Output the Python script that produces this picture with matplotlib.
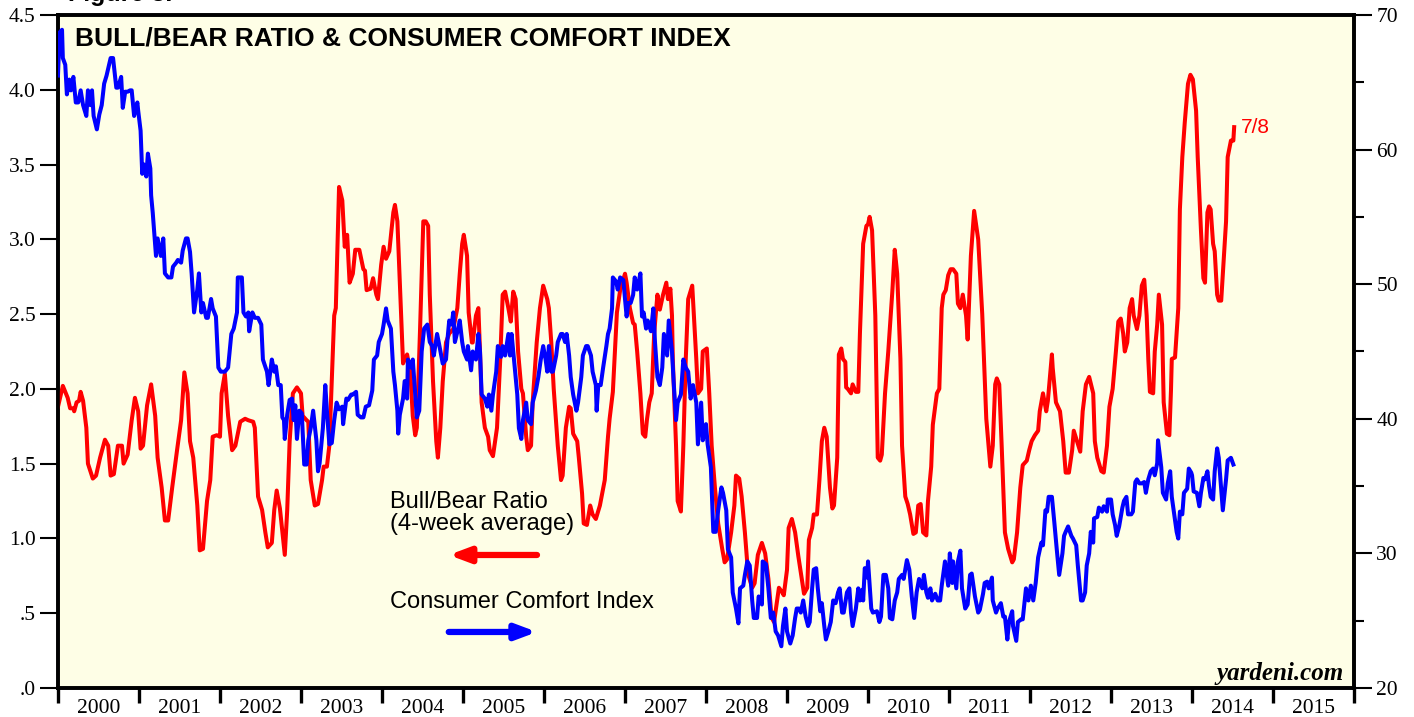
import matplotlib
matplotlib.use('Agg')
import matplotlib.pyplot as plt
from matplotlib.ticker import MultipleLocator, FixedLocator, FuncFormatter, NullFormatter

# Bull/Bear ratio (4-week average), left scale
bb_year = [2000.00, 2000.06, 2000.12, 2000.15, 2000.19, 2000.20, 2000.23, 2000.26, 2000.28, 2000.31,
           2000.35, 2000.37, 2000.43, 2000.47, 2000.52, 2000.58, 2000.62, 2000.65, 2000.69, 2000.74,
           2000.79, 2000.81, 2000.86, 2000.91, 2000.95, 2000.99, 2001.02, 2001.05, 2001.10, 2001.15,
           2001.20, 2001.23, 2001.28, 2001.32, 2001.36, 2001.41, 2001.47, 2001.52, 2001.56, 2001.60,
           2001.63, 2001.67, 2001.72, 2001.75, 2001.79, 2001.84, 2001.88, 2001.91, 2001.96, 2002.00,
           2002.02, 2002.06, 2002.10, 2002.15, 2002.19, 2002.25, 2002.31, 2002.35, 2002.41, 2002.43,
           2002.47, 2002.52, 2002.56, 2002.59, 2002.64, 2002.67, 2002.70, 2002.74, 2002.78, 2002.80,
           2002.83, 2002.86, 2002.90, 2002.95, 2003.00, 2003.02, 2003.07, 2003.09, 2003.12, 2003.17,
           2003.21, 2003.26, 2003.28, 2003.32, 2003.35, 2003.38, 2003.41, 2003.43, 2003.47, 2003.51,
           2003.54, 2003.57, 2003.60, 2003.64, 2003.67, 2003.72, 2003.77, 2003.79, 2003.81, 2003.86,
           2003.89, 2003.93, 2003.95, 2003.99, 2004.02, 2004.05, 2004.09, 2004.14, 2004.16, 2004.19,
           2004.22, 2004.26, 2004.31, 2004.35, 2004.38, 2004.41, 2004.43, 2004.47, 2004.51, 2004.54,
           2004.57, 2004.59, 2004.63, 2004.67, 2004.69, 2004.72, 2004.75, 2004.79, 2004.83, 2004.88,
           2004.93, 2004.96, 2004.99, 2005.01, 2005.05, 2005.07, 2005.11, 2005.12, 2005.16, 2005.19,
           2005.21, 2005.23, 2005.27, 2005.31, 2005.33, 2005.37, 2005.42, 2005.46, 2005.49, 2005.52,
           2005.56, 2005.59, 2005.62, 2005.65, 2005.68, 2005.72, 2005.74, 2005.78, 2005.80, 2005.84,
           2005.86, 2005.91, 2005.95, 2005.99, 2006.04, 2006.06, 2006.09, 2006.12, 2006.17, 2006.21,
           2006.23, 2006.27, 2006.31, 2006.33, 2006.36, 2006.41, 2006.43, 2006.47, 2006.49, 2006.53,
           2006.57, 2006.60, 2006.64, 2006.69, 2006.75, 2006.79, 2006.81, 2006.85, 2006.90, 2006.94,
           2007.00, 2007.02, 2007.06, 2007.10, 2007.12, 2007.15, 2007.19, 2007.22, 2007.25, 2007.27,
           2007.30, 2007.33, 2007.36, 2007.40, 2007.43, 2007.47, 2007.51, 2007.53, 2007.56, 2007.58,
           2007.59, 2007.63, 2007.65, 2007.69, 2007.72, 2007.75, 2007.78, 2007.83, 2007.85, 2007.88,
           2007.90, 2007.94, 2007.96, 2008.01, 2008.04, 2008.07, 2008.11, 2008.15, 2008.20, 2008.23,
           2008.26, 2008.31, 2008.35, 2008.37, 2008.41, 2008.44, 2008.48, 2008.52, 2008.57, 2008.60,
           2008.64, 2008.69, 2008.73, 2008.77, 2008.81, 2008.84, 2008.88, 2008.90, 2008.94, 2008.96,
           2009.00, 2009.02, 2009.06, 2009.10, 2009.14, 2009.19, 2009.21, 2009.25, 2009.27, 2009.31,
           2009.33, 2009.37, 2009.40, 2009.43, 2009.46, 2009.49, 2009.53, 2009.56, 2009.58, 2009.62,
           2009.64, 2009.67, 2009.69, 2009.72, 2009.73, 2009.75, 2009.79, 2009.81, 2009.85, 2009.88,
           2009.90, 2009.94, 2009.98, 2010.00, 2010.02, 2010.05, 2010.09, 2010.12, 2010.15, 2010.17,
           2010.21, 2010.25, 2010.30, 2010.33, 2010.36, 2010.40, 2010.42, 2010.46, 2010.49, 2010.52,
           2010.56, 2010.59, 2010.62, 2010.65, 2010.68, 2010.72, 2010.74, 2010.78, 2010.80, 2010.85,
           2010.88, 2010.91, 2010.93, 2010.96, 2010.99, 2011.02, 2011.05, 2011.09, 2011.11, 2011.14,
           2011.17, 2011.21, 2011.23, 2011.27, 2011.31, 2011.36, 2011.41, 2011.46, 2011.51, 2011.54,
           2011.57, 2011.59, 2011.62, 2011.65, 2011.69, 2011.73, 2011.78, 2011.80, 2011.84, 2011.88,
           2011.91, 2011.96, 2011.99, 2012.02, 2012.06, 2012.10, 2012.12, 2012.16, 2012.20, 2012.22,
           2012.25, 2012.27, 2012.28, 2012.32, 2012.37, 2012.41, 2012.44, 2012.48, 2012.52, 2012.54,
           2012.58, 2012.62, 2012.65, 2012.69, 2012.73, 2012.78, 2012.80, 2012.83, 2012.88, 2012.91,
           2012.95, 2012.98, 2013.02, 2013.06, 2013.09, 2013.12, 2013.15, 2013.17, 2013.20, 2013.23,
           2013.26, 2013.28, 2013.32, 2013.35, 2013.38, 2013.41, 2013.44, 2013.46, 2013.48, 2013.52,
           2013.54, 2013.57, 2013.59, 2013.63, 2013.65, 2013.69, 2013.72, 2013.74, 2013.75, 2013.79,
           2013.83, 2013.85, 2013.88, 2013.91, 2013.95, 2013.98, 2014.01, 2014.05, 2014.07, 2014.11,
           2014.14, 2014.16, 2014.19, 2014.21, 2014.23, 2014.26, 2014.28, 2014.31, 2014.33, 2014.36,
           2014.38, 2014.42, 2014.44, 2014.48, 2014.51, 2014.52]
bb_ratio = [1.88, 2.02, 1.94, 1.87, 1.87, 1.85, 1.91, 1.92, 1.98, 1.92,
            1.74, 1.50, 1.40, 1.42, 1.54, 1.66, 1.62, 1.42, 1.43, 1.62,
            1.62, 1.50, 1.56, 1.79, 1.94, 1.85, 1.60, 1.62, 1.89, 2.03,
            1.82, 1.54, 1.34, 1.12, 1.12, 1.34, 1.59, 1.79, 2.11, 1.97,
            1.65, 1.54, 1.22, 0.92, 0.93, 1.25, 1.39, 1.68, 1.69, 1.68,
            1.97, 2.10, 1.82, 1.59, 1.62, 1.78, 1.80, 1.79, 1.78, 1.74,
            1.28, 1.19, 1.04, 0.94, 0.97, 1.19, 1.32, 1.20, 0.99, 0.89,
            1.19, 1.65, 1.97, 2.01, 1.97, 1.82, 1.79, 1.78, 1.39, 1.22,
            1.23, 1.39, 1.48, 1.48, 1.62, 2.05, 2.49, 2.54, 3.35, 3.26,
            2.95, 3.03, 2.71, 2.77, 2.93, 2.93, 2.80, 2.79, 2.66, 2.67,
            2.74, 2.63, 2.60, 2.83, 2.95, 2.87, 2.92, 3.18, 3.23, 3.12,
            2.71, 2.17, 2.23, 2.11, 1.82, 1.69, 1.74, 2.40, 3.12, 3.12,
            3.09, 2.63, 2.05, 1.65, 1.54, 1.74, 2.05, 2.31, 2.37, 2.40,
            2.54, 2.77, 2.97, 3.03, 2.89, 2.51, 2.31, 2.31, 2.49, 2.54,
            2.25, 1.91, 1.74, 1.68, 1.59, 1.55, 1.74, 2.20, 2.63, 2.65,
            2.54, 2.45, 2.65, 2.60, 2.25, 2.00, 1.97, 1.68, 1.59, 1.62,
            1.91, 2.31, 2.54, 2.69, 2.60, 2.54, 2.31, 2.00, 1.62, 1.39,
            1.42, 1.74, 1.88, 1.87, 1.70, 1.65, 1.54, 1.30, 1.10, 1.09,
            1.22, 1.16, 1.13, 1.22, 1.39, 1.68, 1.80, 1.98, 2.51, 2.66,
            2.77, 2.71, 2.54, 2.44, 2.43, 2.25, 1.97, 1.70, 1.68, 1.79,
            1.91, 1.97, 2.37, 2.63, 2.53, 2.63, 2.71, 2.60, 2.67, 2.49,
            2.20, 1.62, 1.25, 1.18, 1.62, 2.20, 2.60, 2.69, 2.49, 2.20,
            1.97, 2.00, 2.25, 2.27, 1.97, 1.62, 1.34, 1.10, 0.93, 0.84,
            0.86, 1.04, 1.22, 1.42, 1.40, 1.28, 1.04, 0.76, 0.67, 0.70,
            0.89, 0.97, 0.90, 0.73, 0.47, 0.44, 0.59, 0.67, 0.64, 0.62,
            0.79, 1.07, 1.13, 1.04, 0.88, 0.70, 0.63, 0.67, 0.99, 1.07,
            1.16, 1.16, 1.39, 1.65, 1.74, 1.68, 1.34, 1.20, 1.22, 1.54,
            2.23, 2.27, 2.20, 2.18, 2.01, 2.00, 1.97, 2.03, 1.98, 1.98,
            2.37, 2.97, 3.09, 3.10, 3.15, 3.06, 2.49, 1.54, 1.52, 1.56,
            1.97, 2.25, 2.65, 2.93, 2.77, 2.20, 1.62, 1.28, 1.23, 1.16,
            1.03, 1.04, 1.22, 1.23, 1.04, 1.02, 1.25, 1.48, 1.76, 1.97,
            2.00, 2.54, 2.63, 2.66, 2.76, 2.80, 2.80, 2.77, 2.57, 2.54,
            2.63, 2.49, 2.33, 2.89, 3.19, 3.00, 2.50, 1.80, 1.48, 1.62,
            2.03, 2.07, 2.03, 1.62, 1.04, 0.93, 0.84, 0.86, 1.04, 1.34,
            1.49, 1.52, 1.59, 1.65, 1.69, 1.72, 1.85, 1.97, 1.85, 1.92,
            2.11, 2.23, 2.14, 1.91, 1.85, 1.65, 1.44, 1.44, 1.59, 1.72,
            1.65, 1.58, 1.85, 2.03, 2.08, 1.97, 1.65, 1.54, 1.45, 1.44,
            1.62, 1.88, 2.00, 2.25, 2.45, 2.47, 2.37, 2.25, 2.31, 2.54,
            2.60, 2.49, 2.40, 2.49, 2.69, 2.73, 2.49, 2.20, 1.98, 1.97,
            2.25, 2.43, 2.63, 2.43, 1.91, 1.70, 1.69, 1.99, 2.20, 2.21,
            2.54, 3.20, 3.55, 3.78, 4.04, 4.10, 4.07, 3.86, 3.55, 3.06,
            2.74, 2.71, 3.18, 3.22, 3.20, 2.97, 2.92, 2.63, 2.59, 2.59,
            2.77, 3.12, 3.55, 3.66, 3.66, 3.75]

# Consumer Comfort Index, right scale
cci_year = [2000.00, 2000.02, 2000.05, 2000.06, 2000.09, 2000.11, 2000.14, 2000.16, 2000.19, 2000.22,
            2000.25, 2000.28, 2000.31, 2000.35, 2000.37, 2000.40, 2000.42, 2000.44, 2000.48, 2000.51,
            2000.54, 2000.57, 2000.60, 2000.63, 2000.65, 2000.68, 2000.72, 2000.74, 2000.78, 2000.80,
            2000.83, 2000.86, 2000.89, 2000.91, 2000.94, 2000.98, 2000.99, 2001.02, 2001.04, 2001.06,
            2001.09, 2001.11, 2001.14, 2001.15, 2001.17, 2001.21, 2001.23, 2001.27, 2001.30, 2001.32,
            2001.36, 2001.40, 2001.42, 2001.46, 2001.48, 2001.52, 2001.54, 2001.58, 2001.60, 2001.63,
            2001.65, 2001.68, 2001.72, 2001.74, 2001.77, 2001.79, 2001.83, 2001.85, 2001.89, 2001.91,
            2001.95, 2001.98, 2002.01, 2002.06, 2002.10, 2002.14, 2002.17, 2002.21, 2002.22, 2002.27,
            2002.29, 2002.32, 2002.35, 2002.36, 2002.40, 2002.43, 2002.47, 2002.51, 2002.53, 2002.58,
            2002.60, 2002.64, 2002.67, 2002.69, 2002.72, 2002.75, 2002.77, 2002.79, 2002.80, 2002.83,
            2002.86, 2002.89, 2002.91, 2002.93, 2002.95, 2002.98, 2003.01, 2003.04, 2003.07, 2003.09,
            2003.12, 2003.15, 2003.19, 2003.21, 2003.23, 2003.27, 2003.30, 2003.32, 2003.35, 2003.38,
            2003.41, 2003.44, 2003.47, 2003.51, 2003.52, 2003.56, 2003.58, 2003.62, 2003.64, 2003.68,
            2003.70, 2003.74, 2003.77, 2003.80, 2003.84, 2003.88, 2003.90, 2003.94, 2003.96, 2004.00,
            2004.02, 2004.05, 2004.07, 2004.11, 2004.14, 2004.16, 2004.19, 2004.20, 2004.22, 2004.26,
            2004.28, 2004.31, 2004.32, 2004.36, 2004.38, 2004.41, 2004.43, 2004.46, 2004.49, 2004.52,
            2004.56, 2004.59, 2004.62, 2004.64, 2004.68, 2004.70, 2004.74, 2004.75, 2004.79, 2004.81,
            2004.83, 2004.86, 2004.88, 2004.90, 2004.94, 2004.96, 2004.99, 2005.01, 2005.05, 2005.06,
            2005.10, 2005.12, 2005.16, 2005.19, 2005.21, 2005.23, 2005.27, 2005.30, 2005.32, 2005.35,
            2005.37, 2005.41, 2005.43, 2005.47, 2005.49, 2005.52, 2005.56, 2005.58, 2005.60, 2005.63,
            2005.67, 2005.69, 2005.72, 2005.74, 2005.78, 2005.80, 2005.84, 2005.86, 2005.90, 2005.93,
            2005.96, 2005.99, 2006.02, 2006.04, 2006.06, 2006.09, 2006.11, 2006.15, 2006.17, 2006.21,
            2006.23, 2006.26, 2006.28, 2006.31, 2006.33, 2006.36, 2006.40, 2006.42, 2006.46, 2006.48,
            2006.52, 2006.54, 2006.58, 2006.60, 2006.64, 2006.65, 2006.67, 2006.70, 2006.73, 2006.77,
            2006.79, 2006.81, 2006.84, 2006.85, 2006.89, 2006.91, 2006.94, 2006.98, 2007.00, 2007.02,
            2007.04, 2007.07, 2007.10, 2007.12, 2007.15, 2007.19, 2007.21, 2007.23, 2007.26, 2007.28,
            2007.32, 2007.35, 2007.37, 2007.40, 2007.43, 2007.46, 2007.48, 2007.52, 2007.54, 2007.58,
            2007.60, 2007.63, 2007.65, 2007.69, 2007.72, 2007.75, 2007.78, 2007.81, 2007.84, 2007.88,
            2007.90, 2007.94, 2007.96, 2008.00, 2008.02, 2008.06, 2008.09, 2008.12, 2008.15, 2008.19,
            2008.21, 2008.25, 2008.27, 2008.31, 2008.33, 2008.37, 2008.40, 2008.42, 2008.46, 2008.48,
            2008.51, 2008.54, 2008.57, 2008.59, 2008.63, 2008.65, 2008.69, 2008.70, 2008.74, 2008.77,
            2008.80, 2008.83, 2008.86, 2008.89, 2008.93, 2008.95, 2008.98, 2009.00, 2009.04, 2009.07,
            2009.10, 2009.12, 2009.15, 2009.17, 2009.20, 2009.23, 2009.26, 2009.28, 2009.31, 2009.33,
            2009.36, 2009.38, 2009.41, 2009.43, 2009.46, 2009.48, 2009.51, 2009.54, 2009.57, 2009.60,
            2009.63, 2009.65, 2009.68, 2009.70, 2009.74, 2009.77, 2009.79, 2009.81, 2009.85, 2009.88,
            2009.90, 2009.93, 2009.94, 2009.96, 2009.99, 2010.00, 2010.04, 2010.06, 2010.11, 2010.14,
            2010.16, 2010.19, 2010.22, 2010.25, 2010.27, 2010.30, 2010.33, 2010.36, 2010.38, 2010.42,
            2010.44, 2010.48, 2010.51, 2010.54, 2010.57, 2010.60, 2010.63, 2010.67, 2010.69, 2010.72,
            2010.74, 2010.77, 2010.79, 2010.83, 2010.86, 2010.89, 2010.91, 2010.95, 2010.99, 2011.01,
            2011.04, 2011.05, 2011.09, 2011.11, 2011.14, 2011.16, 2011.20, 2011.23, 2011.26, 2011.28,
            2011.32, 2011.36, 2011.38, 2011.42, 2011.44, 2011.47, 2011.49, 2011.53, 2011.54, 2011.58,
            2011.60, 2011.64, 2011.67, 2011.69, 2011.72, 2011.74, 2011.78, 2011.79, 2011.83, 2011.85,
            2011.89, 2011.91, 2011.95, 2011.98, 2012.01, 2012.04, 2012.07, 2012.10, 2012.14, 2012.16,
            2012.19, 2012.21, 2012.23, 2012.27, 2012.30, 2012.33, 2012.36, 2012.40, 2012.42, 2012.44,
            2012.47, 2012.51, 2012.53, 2012.57, 2012.59, 2012.63, 2012.65, 2012.68, 2012.70, 2012.73,
            2012.75, 2012.78, 2012.79, 2012.83, 2012.85, 2012.89, 2012.91, 2012.95, 2012.96, 2013.00,
            2013.02, 2013.05, 2013.07, 2013.10, 2013.14, 2013.16, 2013.19, 2013.21, 2013.25, 2013.27,
            2013.30, 2013.32, 2013.35, 2013.38, 2013.41, 2013.43, 2013.46, 2013.49, 2013.52, 2013.54,
            2013.57, 2013.58, 2013.62, 2013.64, 2013.68, 2013.70, 2013.73, 2013.75, 2013.78, 2013.81,
            2013.83, 2013.85, 2013.88, 2013.90, 2013.94, 2013.96, 2013.99, 2014.00, 2014.02, 2014.06,
            2014.09, 2014.11, 2014.14, 2014.16, 2014.19, 2014.21, 2014.23, 2014.26, 2014.28, 2014.31,
            2014.33, 2014.36, 2014.38, 2014.42, 2014.44, 2014.48, 2014.51]
cci_value = [65.5, 68.7, 68.9, 66.8, 66.3, 64.1, 65.2, 64.4, 65.4, 63.5,
             63.5, 64.4, 63.3, 62.5, 64.4, 63.3, 64.4, 62.5, 61.5, 62.6,
             63.3, 64.9, 65.5, 66.3, 66.8, 66.8, 64.6, 64.6, 65.4, 63.1,
             64.3, 64.3, 64.4, 64.4, 62.5, 63.5, 62.9, 61.4, 58.2, 58.9,
             58.0, 59.7, 58.6, 56.6, 55.3, 52.1, 53.4, 52.1, 53.4, 50.8,
             50.5, 50.5, 51.3, 51.6, 51.8, 51.6, 52.5, 53.4, 53.4, 52.4,
             50.8, 47.9, 49.6, 50.8, 47.9, 48.6, 47.5, 47.5, 48.9, 48.2,
             47.6, 43.8, 43.5, 43.5, 43.8, 46.3, 46.7, 47.9, 50.5, 50.5,
             47.9, 47.6, 47.9, 46.5, 47.9, 47.5, 47.5, 47.0, 44.4, 43.5,
             42.5, 44.4, 43.5, 43.9, 42.5, 42.5, 40.1, 39.9, 38.5, 40.3,
             41.4, 41.5, 39.9, 41.0, 38.5, 40.6, 40.4, 36.6, 36.6, 38.4,
             39.3, 40.6, 38.4, 36.1, 36.7, 39.3, 42.5, 40.6, 38.1, 38.2,
             39.9, 41.2, 40.7, 40.9, 39.6, 41.5, 41.4, 41.8, 41.8, 42.0,
             40.3, 40.1, 40.1, 40.9, 41.0, 42.1, 44.4, 44.7, 45.7, 46.3,
             47.0, 48.2, 47.3, 46.7, 43.5, 42.5, 40.6, 38.9, 40.3, 41.5,
             42.8, 41.5, 44.4, 43.8, 44.4, 41.8, 40.1, 40.6, 45.0, 46.7,
             47.0, 45.7, 45.4, 44.7, 46.3, 45.7, 44.4, 44.1, 44.4, 46.0,
             47.3, 47.0, 47.9, 45.7, 46.7, 47.3, 45.7, 45.0, 44.4, 45.4,
             43.6, 45.0, 44.4, 46.3, 45.0, 41.8, 41.5, 40.9, 41.8, 40.6,
             41.8, 43.5, 45.4, 44.6, 45.4, 44.7, 46.3, 44.7, 46.3, 44.4,
             41.8, 39.3, 38.5, 39.9, 41.2, 39.9, 39.6, 41.2, 42.1, 43.1,
             44.4, 45.4, 44.4, 43.5, 45.4, 43.5, 43.5, 44.7, 45.7, 46.3,
             46.3, 45.7, 46.3, 44.7, 43.1, 41.8, 40.6, 41.2, 43.1, 44.7,
             45.4, 45.4, 44.7, 43.5, 42.5, 40.6, 42.5, 42.5, 43.8, 45.4,
             46.3, 46.7, 48.2, 50.5, 50.2, 49.6, 50.5, 50.3, 48.9, 47.6,
             48.6, 48.6, 49.2, 50.5, 49.6, 50.8, 47.6, 47.9, 46.7, 47.3,
             46.5, 48.2, 45.7, 43.1, 42.5, 43.8, 46.3, 44.7, 47.3, 45.0,
             42.8, 39.9, 41.2, 41.8, 44.4, 43.8, 43.5, 41.5, 42.5, 41.2,
             38.1, 41.2, 38.4, 39.6, 38.1, 36.4, 31.6, 31.6, 33.2, 34.9,
             34.5, 33.2, 30.3, 29.7, 27.1, 25.9, 24.8, 27.4, 27.6, 28.4,
             29.4, 29.1, 26.5, 25.2, 25.2, 26.8, 26.2, 29.4, 29.2, 27.4,
             25.2, 25.6, 24.2, 23.9, 23.1, 24.6, 25.9, 24.2, 23.3, 23.9,
             25.2, 25.9, 25.9, 25.6, 26.5, 25.3, 24.6, 24.9, 27.4, 28.8,
             28.9, 27.4, 25.7, 26.3, 24.6, 23.6, 24.2, 24.9, 26.5, 26.3,
             27.1, 27.4, 25.6, 25.6, 27.1, 27.4, 25.6, 24.6, 25.9, 27.4,
             26.5, 27.3, 26.5, 28.9, 28.2, 29.4, 25.9, 25.6, 25.7, 24.9,
             25.3, 28.4, 28.4, 27.4, 25.2, 25.1, 26.5, 27.1, 28.1, 28.4,
             28.1, 29.5, 28.8, 26.8, 25.2, 27.1, 28.1, 27.4, 28.4, 27.1,
             26.7, 27.4, 26.5, 27.0, 26.5, 26.5, 27.6, 29.4, 27.6, 30.0,
             27.8, 29.4, 27.4, 29.4, 30.2, 27.4, 25.9, 26.2, 28.4, 28.5,
             26.8, 25.6, 25.8, 27.0, 27.8, 27.9, 27.4, 28.2, 26.5, 25.6,
             25.9, 26.3, 25.3, 25.3, 23.6, 24.9, 25.7, 24.6, 23.5, 24.9,
             25.1, 25.1, 27.4, 26.5, 27.6, 26.5, 27.8, 29.7, 30.8, 30.6,
             33.2, 33.1, 34.2, 34.2, 32.3, 30.3, 28.4, 30.0, 31.3, 31.6,
             32.0, 31.3, 31.1, 30.6, 29.1, 26.5, 26.5, 27.1, 29.1, 30.0,
             31.6, 30.8, 32.6, 32.7, 33.4, 33.1, 33.5, 33.1, 34.0, 34.0,
             32.9, 32.1, 31.3, 32.0, 33.4, 33.9, 34.2, 32.9, 32.9, 33.1,
             35.3, 35.5, 35.2, 35.2, 35.3, 34.5, 35.5, 36.1, 36.3, 35.8,
             36.7, 38.4, 36.4, 34.5, 34.0, 35.2, 36.1, 34.2, 32.9, 31.6,
             31.1, 33.1, 32.9, 34.5, 34.8, 36.3, 36.0, 35.8, 34.6, 34.5,
             33.5, 34.5, 35.6, 35.5, 36.1, 35.0, 34.2, 34.0, 36.1, 37.8,
             37.1, 34.8, 33.2, 35.5, 36.9, 37.1, 36.6]

years = list(range(2000, 2016))
last_label = '7/8'

serif = 'Liberation Serif'
sans = 'Liberation Sans'

fig = plt.figure(figsize=(14.14, 7.17), dpi=100)
ax = fig.add_axes([0.041, 0.0405, 0.9166, 0.9386])
ax.set_facecolor('#fefee6')
ax2 = ax.twinx()

ax.plot(bb_year, bb_ratio, color='#ff0000', lw=2.9, solid_joinstyle='round', zorder=3)
ax2.plot(cci_year, cci_value, color='#0000ff', lw=2.9, solid_joinstyle='round', zorder=3)

ax.set_xlim(2000, 2016)
ax.set_ylim(0, 4.5)
ax2.set_ylim(20, 70)

# x axis: year boundaries as ticks, labels centered within each year
ax.xaxis.set_major_locator(FixedLocator(years + [2016]))
ax.xaxis.set_major_formatter(NullFormatter())
ax.xaxis.set_minor_locator(FixedLocator([y + 0.5 for y in years]))
ax.set_xticklabels([str(y) for y in years], minor=True)
ax.tick_params(axis='x', which='major', direction='out', length=11, width=2.4)
ax.tick_params(axis='x', which='minor', length=0, pad=8, labelsize=15.5)

ax.yaxis.set_major_locator(MultipleLocator(0.5))
ax.yaxis.set_major_formatter(FuncFormatter(lambda v, p: f'{v:.1f}'.lstrip('0') if v < 1 else f'{v:.1f}'))
ax.tick_params(axis='y', direction='out', length=13, width=1.5, pad=3, labelsize=15.5)

ax2.yaxis.set_major_locator(MultipleLocator(10))
ax2.yaxis.set_minor_locator(MultipleLocator(5))
ax2.tick_params(axis='y', which='major', direction='out', length=13, width=1.5, pad=3, labelsize=15.5)
ax2.tick_params(axis='y', which='minor', direction='out', length=7, width=1.5)

for lab in ax.get_xticklabels(minor=True) + ax.get_yticklabels() + ax2.get_yticklabels():
    lab.set_fontfamily(serif)

for a in (ax, ax2):
    for s in a.spines.values():
        s.set_linewidth(2.6)
        s.set_color('black')

ax.text(0.013, 0.965, 'BULL/BEAR RATIO & CONSUMER COMFORT INDEX', transform=ax.transAxes,
        fontsize=19, fontweight='bold', family=sans, va='center', ha='left')

fig.text(0.048, 0.9985, 'Figure 3.', fontsize=18, fontweight='bold', family=sans,
         ha='left', va='baseline')

ax.text(0.256, 0.292, 'Bull/Bear Ratio\n(4-week average)', transform=ax.transAxes,
        fontsize=17, family=sans, va='top', ha='left', linespacing=0.95)
ax.text(0.256, 0.128, 'Consumer Comfort Index', transform=ax.transAxes,
        fontsize=17, family=sans, va='center', ha='left')

ax.annotate('', xy=(0.3015, 0.1976), xytext=(0.3696, 0.1976), xycoords='axes fraction',
            arrowprops=dict(arrowstyle='-|>,head_length=1.2,head_width=0.45', color='#ff0000',
                            lw=4.5, shrinkA=0, shrinkB=0))
ax.annotate('', xy=(0.3696, 0.0832), xytext=(0.3015, 0.0832), xycoords='axes fraction',
            arrowprops=dict(arrowstyle='-|>,head_length=1.2,head_width=0.45', color='#0000ff',
                            lw=4.5, shrinkA=0, shrinkB=0))

ax.annotate(last_label, xy=(bb_year[-1], bb_ratio[-1]), xytext=(5, 0), textcoords='offset points',
            color='#ff0000', fontsize=15, family=sans, va='center', ha='left')

ax.text(0.992, 0.022, 'yardeni.com', transform=ax.transAxes, fontsize=18,
        family=serif, fontweight='bold', fontstyle='italic', ha='right', va='center')

fig.savefig('out.png', dpi=100)
